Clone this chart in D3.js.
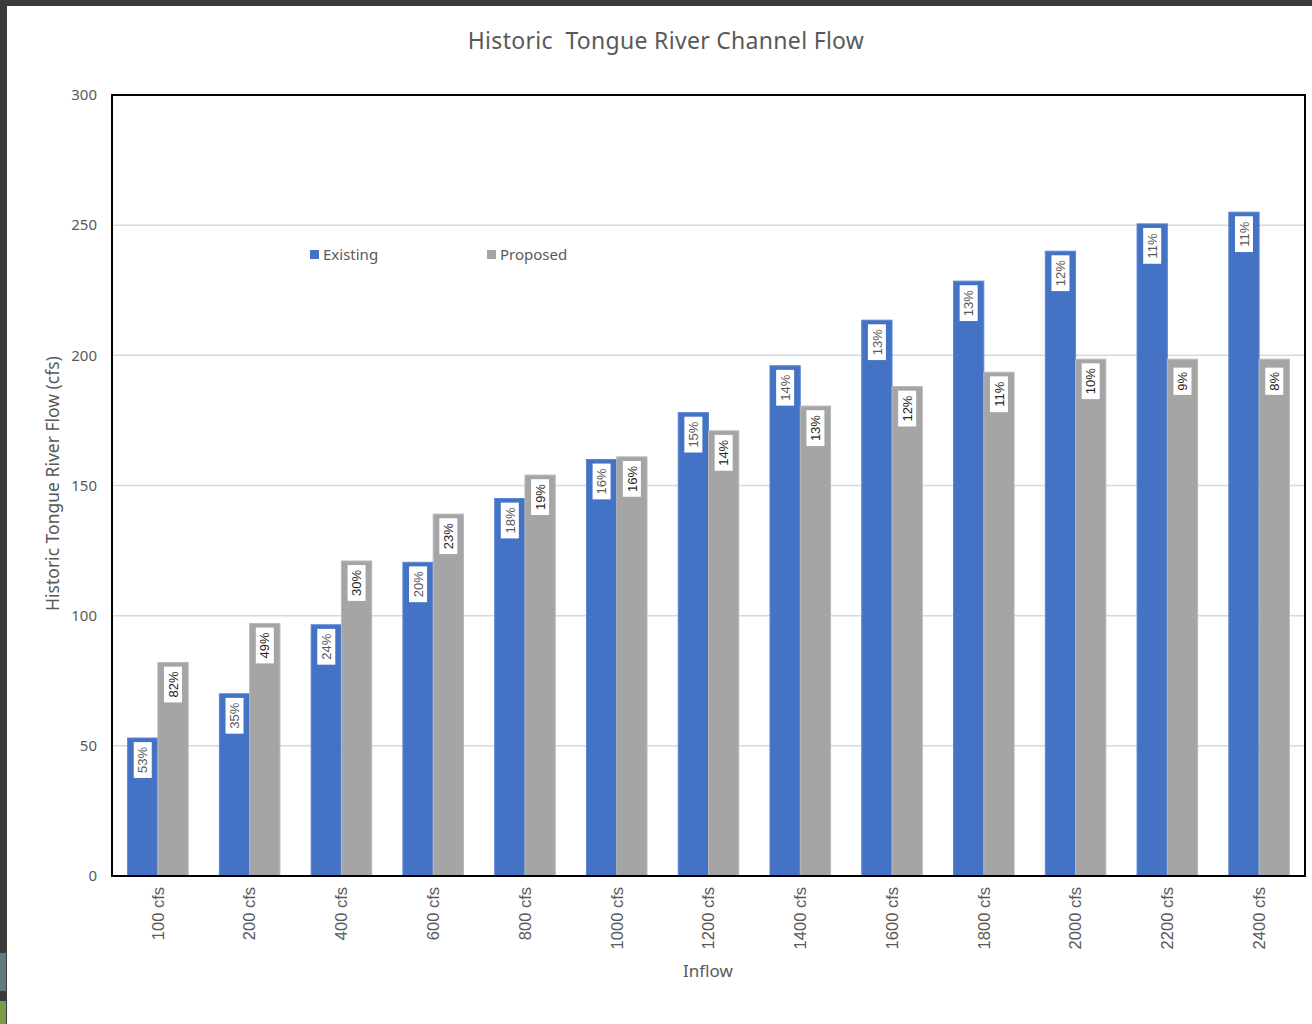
<!DOCTYPE html>
<html>
<head>
<meta charset="utf-8">
<script src="https://cdn.jsdelivr.net/npm/d3@7"></script>
<style>
  html, body { margin: 0; padding: 0; background: #fff; }
  svg { display: block; font-family: "Noto Sans", "Open Sans", sans-serif; }
</style>
</head>
<body>
<div id="chart"></div>
<script>
// Data
const inflows = ['100 cfs', '200 cfs', '400 cfs', '600 cfs', '800 cfs', '1000 cfs', '1200 cfs',
    '1400 cfs', '1600 cfs', '1800 cfs', '2000 cfs', '2200 cfs', '2400 cfs'];
const existing = [53, 70, 96.5, 120.5, 145, 160, 178, 196, 213.5, 228.5, 240, 250.5, 255];
const proposed = [82, 97, 121, 139, 154, 161, 171, 180.5, 188, 193.5, 198.5, 198.5, 198.5];
const existingPct = ['53%', '35%', '24%', '20%', '18%', '16%', '15%', '14%', '13%', '13%', '12%', '11%', '11%'];
const proposedPct = ['82%', '49%', '30%', '23%', '19%', '16%', '14%', '13%', '12%', '11%', '10%', '9%', '8%'];
const seriesNames = ['Existing', 'Proposed'];
const yTicks = [0, 50, 100, 150, 200, 250, 300];

const config = {
    WIDTH: 1312,
    HEIGHT: 1024,
    LEFT: 112,
    RIGHT: 1305,
    TOP: 95,
    BOTTOM: 876,
    BLUE: '#4472C4',
    GRAY: '#A5A5A5',
    TEXT: '#595959',
};

const svg = d3.select('#chart')
    .append('svg')
    .attr('width', config.WIDTH)
    .attr('height', config.HEIGHT);

svg.append('rect')
    .attr('width', config.WIDTH)
    .attr('height', config.HEIGHT)
    .attr('fill', '#fff');

// screenshot frame (dark edges on top and left)
svg.append('rect').attr('x', 0).attr('y', 0).attr('width', config.WIDTH).attr('height', 6).attr('fill', '#3b3b3b');
svg.append('rect').attr('x', 0).attr('y', 0).attr('width', 7).attr('height', config.HEIGHT).attr('fill', '#3b3b3b');
svg.append('rect').attr('x', 0).attr('y', 953).attr('width', 6).attr('height', 38).attr('fill', '#5f7a80');
svg.append('rect').attr('x', 0).attr('y', 1001).attr('width', 6).attr('height', 23).attr('fill', '#7d9c4a');

const x0 = d3.scaleBand()
    .domain(inflows)
    .range([config.LEFT, config.RIGHT])
    .paddingInner(0.34)
    .paddingOuter(0.17);

const x1 = d3.scaleBand()
    .domain(seriesNames)
    .range([0, x0.bandwidth()]);

const y = d3.scaleLinear()
    .domain([0, 300])
    .range([config.BOTTOM, config.TOP]);

// gridlines
svg.append('g')
    .selectAll('line')
    .data(yTicks.filter(d => d > 0 && d < 300))
    .join('line')
    .attr('x1', config.LEFT)
    .attr('x2', config.RIGHT)
    .attr('y1', d => y(d))
    .attr('y2', d => y(d))
    .attr('stroke', '#d9d9d9')
    .attr('stroke-width', 1.5);

// y axis tick labels
const yAxis = svg.append('g')
    .attr('transform', `translate(${config.LEFT},0)`)
    .call(d3.axisLeft(y).tickValues(yTicks).tickSize(0).tickPadding(15));
yAxis.select('.domain').remove();
yAxis.selectAll('text')
    .attr('fill', config.TEXT)
    .style('font-size', '15px')
    .style('font-family', '"Noto Sans", sans-serif');

// bars
const rows = inflows.map((c, i) => ({
    cat: c,
    vals: [
        { key: 'Existing', v: existing[i], pct: existingPct[i] },
        { key: 'Proposed', v: proposed[i], pct: proposedPct[i] },
    ],
}));

const groups = svg.append('g')
    .selectAll('g')
    .data(rows)
    .join('g')
    .attr('transform', d => `translate(${x0(d.cat)},0)`);

groups.selectAll('rect')
    .data(d => d.vals)
    .join('rect')
    .attr('x', d => x1(d.key))
    .attr('y', d => y(d.v))
    .attr('width', x1.bandwidth())
    .attr('height', d => y(0) - y(d.v))
    .attr('fill', d => d.key === 'Existing' ? config.BLUE : config.GRAY)
    .attr('stroke', d => d.key === 'Existing' ? '#5b86d6' : '#b8b8b8')
    .attr('stroke-width', 1);

// percentage labels, rotated inside the bar top
const labels = groups.selectAll('g.lab')
    .data(d => d.vals)
    .join('g')
    .attr('class', 'lab')
    .attr('transform', d => `translate(${x1(d.key) + x1.bandwidth() / 2},${y(d.v) + 22}) rotate(-90)`);

labels.append('rect')
    .attr('x', d => -(d.pct.length * 4.3 + 5))
    .attr('y', -9)
    .attr('width', d => d.pct.length * 8.6 + 10)
    .attr('height', 18)
    .attr('fill', '#fff');

labels.append('text')
    .attr('text-anchor', 'middle')
    .attr('dy', '0.36em')
    .attr('fill', d => d.key === 'Existing' ? config.TEXT : '#262626')
    .style('font-size', '13px')
    .style('font-family', '"Liberation Sans", sans-serif')
    .text(d => d.pct);

// x axis tick labels (rotated)
const xAxis = svg.append('g')
    .attr('transform', `translate(0,${config.BOTTOM})`)
    .call(d3.axisBottom(x0).tickSize(0).tickPadding(0));
xAxis.select('.domain').remove();
xAxis.selectAll('text')
    .attr('transform', 'rotate(-90)')
    .attr('text-anchor', 'end')
    .attr('x', -11)
    .attr('y', 0)
    .attr('dy', '0.35em')
    .attr('fill', config.TEXT)
    .style('font-size', '16.5px')
    .style('font-family', '"Liberation Sans", sans-serif');

// plot border
svg.append('rect')
    .attr('x', config.LEFT)
    .attr('y', config.TOP)
    .attr('width', config.RIGHT - config.LEFT)
    .attr('height', config.BOTTOM - config.TOP)
    .attr('fill', 'none')
    .attr('stroke', '#000')
    .attr('stroke-width', 2);

// title and axis titles
svg.append('text')
    .attr('x', 666)
    .attr('y', 49)
    .attr('text-anchor', 'middle')
    .attr('fill', config.TEXT)
    .style('font-size', '23px')
    .style('letter-spacing', '0.3px')
    .attr('xml:space', 'preserve')
    .text('Historic  Tongue River Channel Flow');

svg.append('text')
    .attr('transform', `translate(59,${(config.TOP + config.BOTTOM) / 2 - 2}) rotate(-90)`)
    .attr('text-anchor', 'middle')
    .attr('fill', config.TEXT)
    .style('font-size', '17.5px')
    .text('Historic Tongue River Flow (cfs)');

svg.append('text')
    .attr('x', 708)
    .attr('y', 977)
    .attr('text-anchor', 'middle')
    .attr('fill', config.TEXT)
    .style('font-size', '17px')
    .text('Inflow');

// legend
const legendX = [310, 487];
const legend = svg.append('g')
    .selectAll('g')
    .data(seriesNames)
    .join('g')
    .attr('transform', (d, i) => `translate(${legendX[i]},255)`);

legend.append('rect')
    .attr('x', 0)
    .attr('y', -5)
    .attr('width', 9)
    .attr('height', 9)
    .attr('fill', (d, i) => i === 0 ? config.BLUE : config.GRAY);

legend.append('text')
    .attr('x', 13)
    .attr('dy', '0.35em')
    .attr('fill', config.TEXT)
    .style('font-size', '15px')
    .text(d => d);
</script>
</body>
</html>
